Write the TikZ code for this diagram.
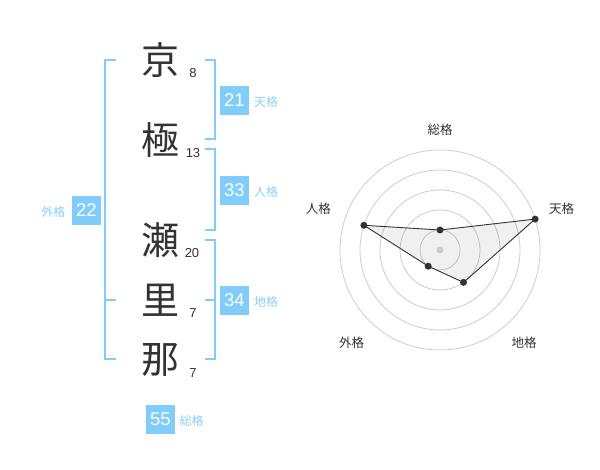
\documentclass[tikz,border=0pt]{standalone}
\usepackage{fontspec}
\setmainfont{Liberation Sans}
\newfontfamily\cjk{Noto Sans CJK JP}
\definecolor{skyb}{RGB}{128,204,250}
\definecolor{skyt}{RGB}{140,206,245}
\definecolor{ink}{RGB}{51,51,51}
\definecolor{ring}{RGB}{204,204,204}
\tikzset{
  bigchar/.style={font=\cjk\fontsize{38}{38}\selectfont, text=ink, inner sep=0pt},
  strokes/.style={font=\fontsize{13}{13}\selectfont, text=ink, inner sep=0pt},
  numbox/.style={fill=skyb, text=white, minimum size=29pt, inner sep=0pt, font=\fontsize{18.5}{18.5}\selectfont},
  kaku/.style={font=\cjk\fontsize{12}{12}\selectfont, text=skyt, inner sep=0pt},
  brk/.style={draw=skyb, line width=2pt},
  axislbl/.style={font=\cjk\fontsize{12.5}{12.5}\selectfont, text=ink, inner sep=0pt},
  ringline/.style={draw=ring, line width=0.8pt},
  dot/.style={circle, fill=ink, inner sep=0pt, minimum size=7pt},
}
\begin{document}
\begin{tikzpicture}[x=1pt,y=-1pt]
\useasboundingbox (0,0) rectangle (600,470);
% characters
\node[bigchar] (c1) at (160,60) {京};
\node[bigchar] (c2) at (160,140) {極};
\node[bigchar] (c3) at (160,240) {瀬};
\node[bigchar] (c4) at (160,300) {里};
\node[bigchar] (c5) at (160,360) {那};
\node[strokes] (s1) at (193,73) {8};
\node[strokes] (s2) at (193,153) {13};
\node[strokes] (s3) at (192,253) {20};
\node[strokes] (s4) at (193,313) {7};
\node[strokes] (s5) at (193,373) {7};
% brackets
\draw[brk] (116,60) -- (105,60) -- (105,359) -- (116,359);
\draw[brk] (105,300) -- (116,300);
\draw[brk] (205,60) -- (215,60) -- (215,139) -- (205,139);
\draw[brk] (205,149) -- (215,149) -- (215,230) -- (205,230);
\draw[brk] (205,240) -- (215,240) -- (215,359) -- (205,359);
\draw[brk] (205,300) -- (215,300);
% boxes and labels
\node[numbox] (ten) at (234.5,100.5) {21};
\node[kaku] (tenl) at (266,102) {天格};
\node[numbox] (jin) at (234.5,190.5) {33};
\node[kaku] (jinl) at (266,192) {人格};
\node[numbox] (chi) at (234.5,300.5) {34};
\node[kaku] (chil) at (266,302) {地格};
\node[numbox] (gai) at (86.5,210.5) {22};
\node[kaku] (gail) at (53.5,212) {外格};
\node[numbox] (sou) at (160.5,419) {55};
\node[kaku] (soul) at (191.5,421) {総格};
% radar
\coordinate (C) at (440,250);
\foreach \r in {20,40,60,80,100} \draw[ringline] (C) circle[radius=\r];
\coordinate (pS) at (440,230);
\coordinate (pT) at (535.1,219.1);
\coordinate (pC) at (463.5,282.4);
\coordinate (pG) at (428.2,266.2);
\coordinate (pJ) at (363.9,225.3);
\fill[black, fill opacity=0.06] (pS) -- (pT) -- (pC) -- (pG) -- (pJ) -- cycle;
\draw[ink, line width=0.9pt] (pS) -- (pT) -- (pC) -- (pG) -- (pJ) -- cycle;
\node[circle, fill=ring, inner sep=0pt, minimum size=7pt] (ctr) at (C) {};
\foreach \p in {pS,pT,pC,pG,pJ} \node[dot] at (\p) {};
\node[axislbl] (aS) at (440,130) {総格};
\node[axislbl] (aT) at (561.7,208.3) {天格};
\node[axislbl] (aJ) at (318.3,208.3) {人格};
\node[axislbl] (aG) at (351.7,342.3) {外格};
\node[axislbl] (aC) at (524,342.3) {地格};
\end{tikzpicture}
\end{document}
